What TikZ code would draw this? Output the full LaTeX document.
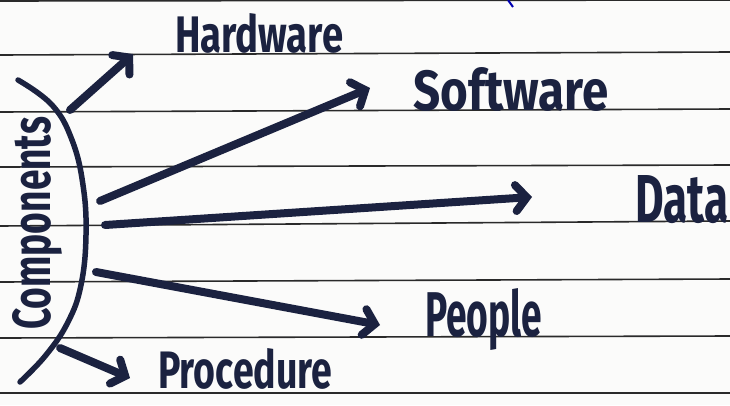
\documentclass[tikz,border=0pt]{standalone}
\usepackage{fontspec}
\usepackage{graphicx}
\setmainfont{Fira Sans}
\usetikzlibrary{arrows.meta}
\definecolor{ink}{HTML}{1B2240}
\definecolor{paper}{HTML}{FBFBFA}
\definecolor{rule}{HTML}{2A2A2A}
\newcommand\hwtext[3]{\resizebox{#1}{#2}{\bfseries #3}}
\tikzset{
  ruling/.style={draw=rule,line width=1.6pt},
  word/.style={inner sep=0pt,anchor=base west,text=ink},
  bracket/.style={draw=ink,line width=5.5pt,line cap=round},
  pointer/.style={draw=ink,line width=8pt,line cap=round,
    -{Straight Barb[length=11pt,width=26pt,line cap=round]}},
}
\begin{document}
\begin{tikzpicture}[x=1pt,y=-1pt]
\fill[paper] (0,0) rectangle (730,405);
\useasboundingbox (0,0) rectangle (730,405);
% ruled lines
\draw[ruling] (0,1) -- (730,0);
\draw[ruling] (0,55) -- (730,52);
\draw[ruling] (0,112) -- (730,109);
\draw[ruling] (0,167) -- (730,165);
\draw[ruling] (0,226) -- (730,221);
\draw[ruling] (0,282) -- (730,279);
\draw[ruling] (0,338) -- (730,336);
\draw[ruling] (0,393) -- (730,393);
% small blue mark
\draw[draw=blue!70!black,line width=2pt] (508,0) -- (513,7);
% bracket
\draw[bracket] plot[smooth,tension=0.7] coordinates {(18,80) (52,105) (72,140) (83,185) (86,235) (81,285) (68,322) (46,355) (20,382)};
% labels
\node[word] (hw) at (175,52) {\hwtext{168pt}{39pt}{Hardware}};
\node[word] (sw) at (413,110) {\hwtext{195pt}{43pt}{Software}};
\node[word] (da) at (635,222) {\hwtext{93pt}{47pt}{Data}};
\node[word] (pe) at (425,336) {\hwtext{117pt}{48pt}{People}};
\node[word] (pr) at (158,388) {\hwtext{174pt}{40pt}{Procedure}};
\node[word,rotate=90] (co) at (50,330) {\hwtext{213pt}{38pt}{Components}};
% arrow ends
\coordinate (s1) at (70,110);  \coordinate (t1) at (133,54);
\coordinate (s2) at (100,201); \coordinate (t2) at (370,88);
\coordinate (s3) at (105,225); \coordinate (t3) at (532,197);
\coordinate (s4) at (96,272);  \coordinate (t4) at (380,325);
\coordinate (s5) at (60,348);  \coordinate (t5) at (130,378);
\draw[pointer] (s1) -- (t1);
\draw[pointer] (s2) -- (t2);
\draw[pointer] (s3) -- (t3);
\draw[pointer] (s4) -- (t4);
\draw[pointer] (s5) -- (t5);
\end{tikzpicture}
\end{document}
